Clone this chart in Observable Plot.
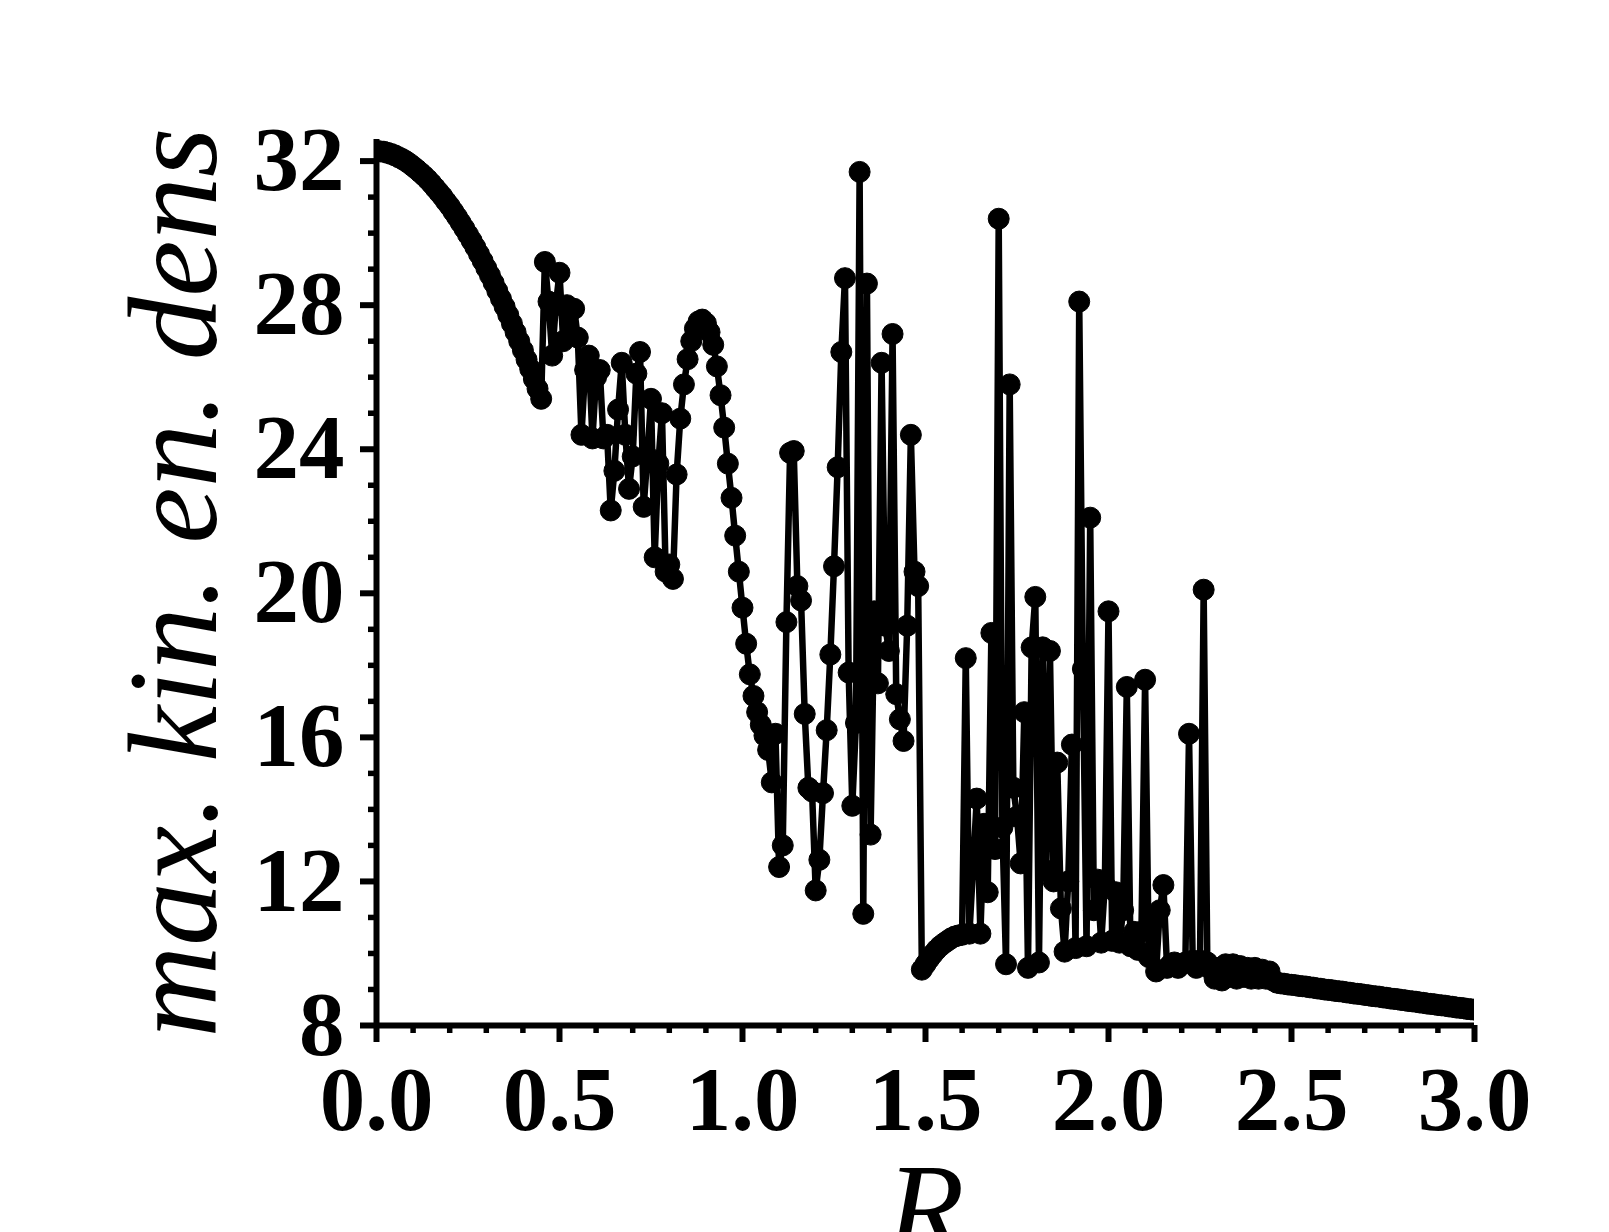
<!DOCTYPE html>
<html><head><meta charset="utf-8">
<script src="https://cdn.jsdelivr.net/npm/d3@7"></script>
<script src="https://cdn.jsdelivr.net/npm/@observablehq/plot@0.6"></script>
<style>html,body{margin:0;padding:0;background:#fff;overflow:hidden} svg{display:block}</style>
</head><body><div id="chart"></div>
<script>
const R = [
0.00,0.01,0.02,0.03,0.04,0.05,0.06,0.07,0.08,0.09,
0.10,0.11,0.12,0.13,0.14,0.15,0.16,0.17,0.18,0.19,
0.20,0.21,0.22,0.23,0.24,0.25,0.26,0.27,0.28,0.29,
0.30,0.31,0.32,0.33,0.34,0.35,0.36,0.37,0.38,0.39,
0.40,0.41,0.42,0.43,0.44,0.45,0.46,0.47,0.48,0.49,
0.50,0.51,0.52,0.53,0.54,0.55,0.56,0.57,0.58,0.59,
0.60,0.61,0.62,0.63,0.64,0.65,0.66,0.67,0.68,0.69,
0.70,0.71,0.72,0.73,0.74,0.75,0.76,0.77,0.78,0.79,
0.80,0.81,0.82,0.83,0.84,0.85,0.86,0.87,0.88,0.89,
0.90,0.91,0.92,0.93,0.94,0.95,0.96,0.97,0.98,0.99,
1.00,1.01,1.02,1.03,1.04,1.05,1.06,1.07,1.08,1.09,
1.10,1.11,1.12,1.13,1.14,1.15,1.16,1.17,1.18,1.19,
1.20,1.21,1.22,1.23,1.24,1.25,1.26,1.27,1.28,1.29,
1.30,1.31,1.32,1.33,1.34,1.35,1.36,1.37,1.38,1.39,
1.40,1.41,1.42,1.43,1.44,1.45,1.46,1.47,1.48,1.49,
1.50,1.51,1.52,1.53,1.54,1.55,1.56,1.57,1.58,1.59,
1.60,1.61,1.62,1.63,1.64,1.65,1.66,1.67,1.68,1.69,
1.70,1.71,1.72,1.73,1.74,1.75,1.76,1.77,1.78,1.79,
1.80,1.81,1.82,1.83,1.84,1.85,1.86,1.87,1.88,1.89,
1.90,1.91,1.92,1.93,1.94,1.95,1.96,1.97,1.98,1.99,
2.00,2.01,2.02,2.03,2.04,2.05,2.06,2.07,2.08,2.09,
2.10,2.11,2.12,2.13,2.14,2.15,2.16,2.17,2.18,2.19,
2.20,2.21,2.22,2.23,2.24,2.25,2.26,2.27,2.28,2.29,
2.30,2.31,2.32,2.33,2.34,2.35,2.36,2.37,2.38,2.39,
2.40,2.41,2.42,2.43,2.44,2.45,2.46,2.47,2.48,2.49,
2.50,2.51,2.52,2.53,2.54,2.55,2.56,2.57,2.58,2.59,
2.60,2.61,2.62,2.63,2.64,2.65,2.66,2.67,2.68,2.69,
2.70,2.71,2.72,2.73,2.74,2.75,2.76,2.77,2.78,2.79,
2.80,2.81,2.82,2.83,2.84,2.85,2.86,2.87,2.88,2.89,
2.90,2.91,2.92,2.93,2.94,2.95,2.96,2.97,2.98,2.99,
3.00];
const maxKinEnDens = [
32.28,32.27,32.26,32.23,32.20,32.16,32.11,32.06,32.00,31.93,
31.85,31.77,31.68,31.59,31.49,31.38,31.26,31.14,31.02,30.88,
30.75,30.60,30.45,30.29,30.13,29.96,29.79,29.61,29.42,29.23,
29.03,28.83,28.62,28.40,28.18,27.96,27.73,27.49,27.25,27.00,
26.75,26.49,26.23,25.95,25.68,25.40,29.2,28.1,26.6,28.0,
28.9,27.0,28.0,27.2,27.9,27.1,24.4,26.2,26.6,24.3,
26.0,26.2,24.3,24.4,22.3,23.4,25.1,26.4,24.4,22.9,
23.8,26.1,26.7,22.4,23.8,25.4,21.0,23.6,25.0,20.6,
20.8,20.4,23.3,24.85,25.8,26.5,27.0,27.35,27.55,27.6,
27.5,27.25,26.9,26.3,25.5,24.6,23.6,22.65,21.6,20.6,
19.6,18.6,17.75,17.15,16.7,16.35,16.05,15.65,14.75,16.1,
12.4,13.0,19.2,23.9,23.95,20.2,19.8,16.65,14.6,14.5,
11.75,12.6,14.45,16.2,18.3,20.75,23.5,26.7,28.75,17.8,
14.1,16.4,31.7,11.1,28.6,13.3,19.5,17.5,26.4,19.1,
18.4,27.2,17.2,16.5,15.9,19.1,24.4,20.6,20.2,9.55,
9.7,9.85,9.98,10.1,10.2,10.28,10.35,10.42,10.47,10.5,
10.52,18.2,10.55,12.4,14.3,10.55,13.6,11.7,18.9,12.9,
30.4,13.5,9.7,25.8,14.6,13.8,12.5,16.7,9.6,18.5,
19.9,9.75,18.5,12.3,18.4,12.0,15.3,11.25,10.05,12.0,
15.8,10.15,28.1,17.9,10.2,22.1,11.2,12.05,10.3,11.9,
19.5,10.35,11.7,10.3,11.2,17.4,10.2,10.6,10.1,10.6,
17.6,9.9,10.9,9.5,11.2,11.9,9.6,9.7,9.75,9.6,
9.7,9.75,16.1,9.8,9.6,9.8,20.1,9.75,9.55,9.3,
9.6,9.25,9.7,9.35,9.7,9.3,9.65,9.35,9.6,9.3,
9.6,9.3,9.55,9.3,9.5,9.25,9.19,9.17,9.16,9.14,
9.13,9.12,9.10,9.09,9.08,9.06,9.05,9.03,9.02,9.00,
8.99,8.98,8.96,8.95,8.94,8.92,8.91,8.89,8.88,8.87,
8.85,8.84,8.82,8.81,8.80,8.78,8.77,8.75,8.74,8.73,
8.71,8.70,8.68,8.67,8.66,8.64,8.63,8.61,8.60,8.59,
8.57,8.56,8.55,8.53,8.52,8.50,8.49,8.48,8.46,8.45,
8.44];

const xMajorTicks = [0, 0.5, 1.0, 1.5, 2.0, 2.5, 3.0];
const xMinorTicks = [0.1,0.2,0.3,0.4,0.6,0.7,0.8,0.9,1.1,1.2,1.3,1.4,1.6,1.7,1.8,1.9,2.1,2.2,2.3,2.4,2.6,2.7,2.8,2.9];
const yMajorTicks = [8, 12, 16, 20, 24, 28, 32];
const yMinorTicks = [9,10,11,13,14,15,17,18,19,21,22,23,25,26,27,29,30,31];
const yLabel = "max. kin. en. dens";
const xLabel = "R";

const data = R.map((r, i) => ({r, v: maxKinEnDens[i]}));
const serif = "'Liberation Serif','Times New Roman',Times,serif";

const chart = Plot.plot({
  width: 1609, height: 1232,
  marginLeft: 376, marginRight: 135, marginTop: 139, marginBottom: 207,
  x: {domain: [0, 3]},
  y: {domain: [8, 32.6]},
  style: {fontFamily: serif, background: "#fff", color: "#000", overflow: "hidden"},
  marks: [
    Plot.line(data, {x: "r", y: "v", stroke: "#000", strokeWidth: 6.5, clip: true}),
    Plot.dot(data, {x: "r", y: "v", r: 10.5, fill: "#000", stroke: "#000", strokeWidth: 1, clip: true}),
    Plot.ruleX([0], {stroke: "#000", strokeWidth: 6}),
    Plot.ruleY([8], {stroke: "#000", strokeWidth: 6}),
    Plot.axisX(xMinorTicks, {tickSize: 8, strokeWidth: 5.5, tickFormat: () => "", label: null}),
    Plot.axisX(xMajorTicks, {tickSize: 17, strokeWidth: 6, tickPadding: 23, tickFormat: d3.format(".1f"),
      fontSize: 91, fontWeight: "bold", fontFamily: serif, label: null}),
    Plot.axisY(yMinorTicks, {tickSize: 8, strokeWidth: 5.5, tickFormat: () => "", label: null}),
    Plot.axisY(yMajorTicks, {tickSize: 16, strokeWidth: 6, tickPadding: 16, tickFormat: d3.format("d"),
      fontSize: 91, fontWeight: "bold", fontFamily: serif, label: null}),
    Plot.text([yLabel], {text: d => d, frameAnchor: "left", dx: -161, rotate: -90, lineAnchor: "bottom",
      textAnchor: "middle", fontSize: 127, fontStyle: "italic", fontFamily: serif, fill: "#000"}),
    Plot.text([xLabel], {text: d => d, frameAnchor: "bottom", dy: 226, lineAnchor: "bottom",
      textAnchor: "middle", fontSize: 127, fontStyle: "italic", fontFamily: serif, fill: "#000"})
  ]
});
document.getElementById("chart").appendChild(chart);
</script>
</body></html>
